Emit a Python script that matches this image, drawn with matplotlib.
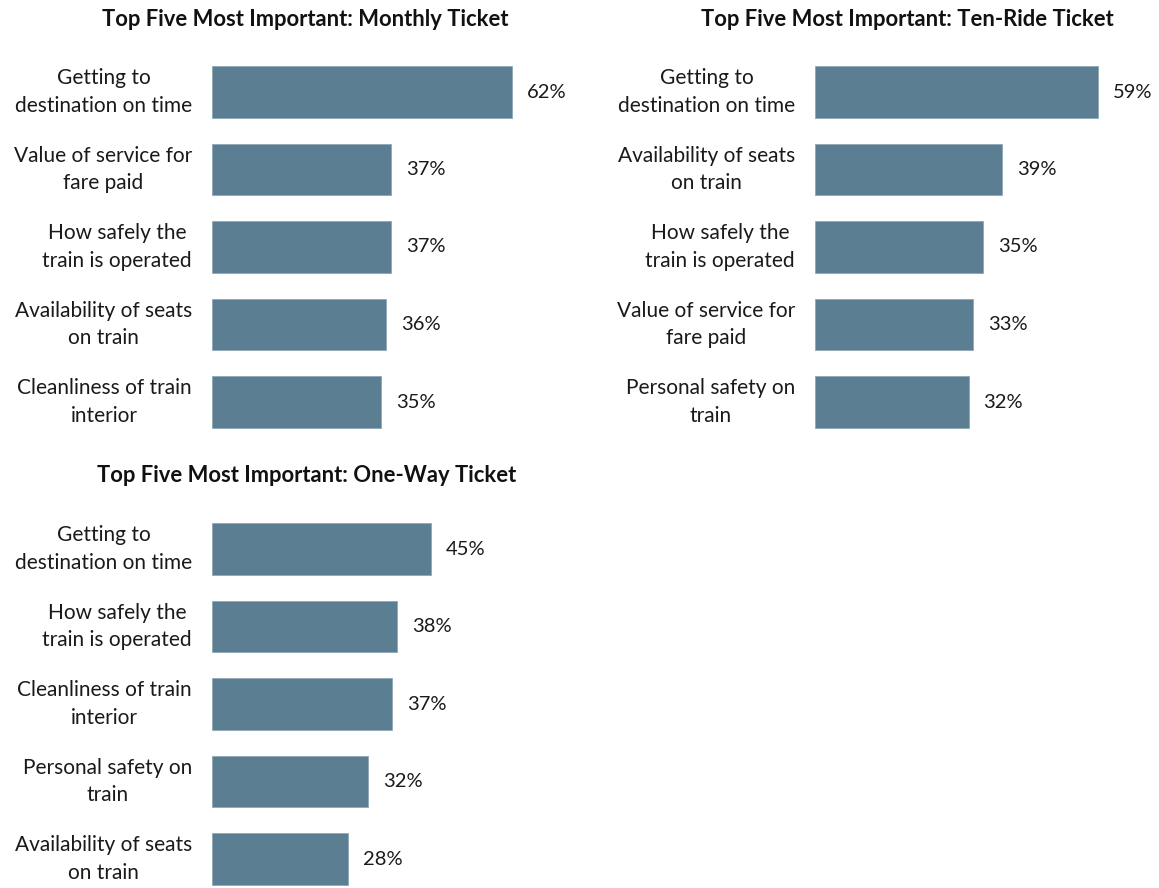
import matplotlib.pyplot as plt

# Survey results: share rating each item in their top five, by ticket type
monthly_labels = [
    "Getting to\ndestination on time",
    "Value of service for\nfare paid",
    "How safely the\ntrain is operated",
    "Availability of seats\non train",
    "Cleanliness of train\ninterior",
]
monthly_values = [62, 37, 37, 36, 35]

tenride_labels = [
    "Getting to\ndestination on time",
    "Availability of seats\non train",
    "How safely the\ntrain is operated",
    "Value of service for\nfare paid",
    "Personal safety on\ntrain",
]
tenride_values = [59, 39, 35, 33, 32]

oneway_labels = [
    "Getting to\ndestination on time",
    "How safely the\ntrain is operated",
    "Cleanliness of train\ninterior",
    "Personal safety on\ntrain",
    "Availability of seats\non train",
]
oneway_values = [45, 38, 37, 32, 28]

BAR_COLOR = "#5b7e92"
W, H = 1159, 888

plt.rcParams['font.family'] = ['Lato', 'DejaVu Sans']

fig = plt.figure(figsize=(W / 100, H / 100), dpi=100)


def panel(title, labels, values, left, top, px_per_pct, title_x, title_y):
    row = 77.5
    height = 5 * row
    width = 100 * px_per_pct
    ax = fig.add_axes([left / W, 1 - (top + height) / H, width / W, height / H])
    y = list(range(len(values)))
    ax.barh(y, values, height=0.67, color=BAR_COLOR, edgecolor="#8fa8b6", linewidth=0.6)
    ax.set_xlim(0, 100)
    ax.set_ylim(len(values) - 0.5, -0.5)
    ax.axis("off")
    for yi, v, lab in zip(y, values, labels):
        ax.annotate(f"{v}%", (v, yi), xytext=(15, 0), textcoords="offset pixels",
                    ha="left", va="center", fontsize=14.5, color="#1a1a1a")
        ax.annotate(lab, (0, yi), xytext=(-20, 0), textcoords="offset pixels",
                    ha="right", va="center", multialignment="center",
                    fontsize=15, color="#1a1a1a", linespacing=1.45)
    fig.text(title_x / W, 1 - title_y / H, title, ha="center", va="center",
             fontsize=15.8, fontweight="bold", color="#111111")


panel("Top Five Most Important: Monthly Ticket", monthly_labels, monthly_values,
      212, 53.25, 4.84, 305, 20)
panel("Top Five Most Important: Ten-Ride Ticket", tenride_labels, tenride_values,
      815, 53.25, 4.797, 907, 20)
panel("Top Five Most Important: One-Way Ticket", oneway_labels, oneway_values,
      212, 510.25, 4.87, 307, 475)

fig.savefig("out.png", dpi=100)
